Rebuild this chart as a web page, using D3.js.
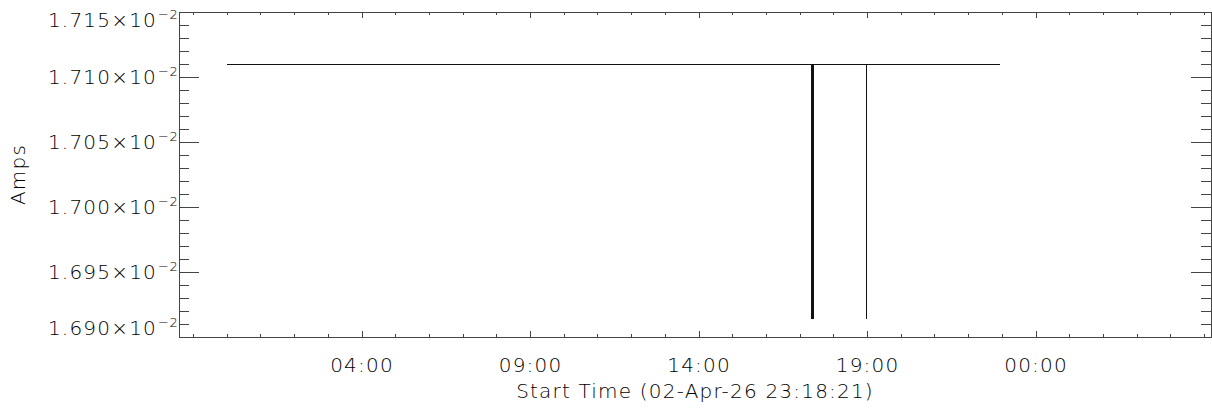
<!DOCTYPE html>
<html>
<head>
<meta charset="utf-8">
<script src="https://cdn.jsdelivr.net/npm/d3@7"></script>
<style>
body{margin:0;background:#fff;}
text{font-family:"DejaVu Sans",sans-serif;font-weight:200;fill:#000;letter-spacing:1.2px;}
</style>
</head>
<body>
<div id="chart"></div>
<script>
// data: hours after 00:00 (03-Apr), current in Amps
var times =[0,17.33,17.33,17.33,17.36,17.36,17.36,17.39,17.39,17.39,18.98,18.98,18.98,22.93];
var amps  =[0.0171098,0.0171098,0.0169138,0.0171098,0.0171098,0.0169138,0.0171098,0.0171098,0.0169138,0.0171098,0.0171098,0.0169138,0.0171098,0.0171098];
var yTicks=[0.01690,0.01695,0.01700,0.01705,0.01710,0.01715];
var xMajor=[4,9,14,19,24];
var xDomain=[-1.43,29.19];
var yDomain=[0.01690,0.01715];
var xTitle="Start Time (02-Apr-26 23:18:21)";
var yTitle="Amps";

var W=1212,H=412;
var L=179,R=1211,T=12,B=337;
var svg=d3.select("#chart").append("svg").attr("width",W).attr("height",H);

var x=d3.scaleLinear().domain(xDomain).range([L,R]);
var y=d3.scaleLinear().domain(yDomain).range([B,T]);

var ax="#444";
//***************************
//FRAME
//***************************
svg.append("rect").attr("x",L).attr("y",T).attr("width",R-L).attr("height",B-T)
	.attr("fill","none").attr("stroke",ax).attr("shape-rendering","crispEdges");

//***************************
//TICKS
//***************************
var yMinor=d3.range(0,26).map(function(i){return 0.01690+i*0.00001;});
var g=svg.append("g").attr("stroke",ax).attr("shape-rendering","crispEdges");
yMinor.forEach(function(v){
	var major=yTicks.some(function(t){return Math.abs(t-v)<1e-9;});
	var len=major?20:10;
	g.append("line").attr("x1",L).attr("x2",L+len).attr("y1",y(v)).attr("y2",y(v));
	g.append("line").attr("x1",R).attr("x2",R-len).attr("y1",y(v)).attr("y2",y(v));
});
var xMinor=d3.range(Math.ceil(xDomain[0]),Math.floor(xDomain[1])+1);
xMinor.forEach(function(h){
	var len=xMajor.indexOf(h)>=0?6:3;
	g.append("line").attr("x1",x(h)).attr("x2",x(h)).attr("y1",B).attr("y2",B-len);
	g.append("line").attr("x1",x(h)).attr("x2",x(h)).attr("y1",T).attr("y2",T+len);
});

//***************************
//LABELS
//***************************
yTicks.forEach(function(v,i){
	var yy=y(v)+7;
	if(i==0)yy-=9;
	if(i==yTicks.length-1)yy+=8;
	svg.append("text").attr("x",157).attr("y",yy).attr("text-anchor","end")
		.attr("font-size",20).text((v*100).toFixed(3)+"\u00d710");
	svg.append("text").attr("x",158).attr("y",yy-8).attr("font-size",13)
		.style("letter-spacing","0.5px").text("\u22122");
});
xMajor.forEach(function(h){
	svg.append("text").attr("x",x(h)).attr("y",372).attr("text-anchor","middle")
		.attr("font-size",20).text(d3.format("02")(h%24)+":00");
});
svg.append("text").attr("x",(L+R)/2).attr("y",398).attr("text-anchor","middle")
	.attr("font-size",20).text(xTitle);
svg.append("text").attr("transform","translate(25,"+((T+B)/2)+") rotate(-90)")
	.attr("text-anchor","middle").attr("font-size",20).text(yTitle);

//***************************
//DATA
//***************************
var line=d3.line().x(function(d){return x(d[0]);}).y(function(d){return y(d[1]);});
svg.append("path").attr("d",line(times.map(function(t,i){return [t,amps[i]];})))
	.attr("fill","none").attr("stroke","#111").attr("stroke-width",1)
	.attr("shape-rendering","crispEdges");
</script>
</body>
</html>
